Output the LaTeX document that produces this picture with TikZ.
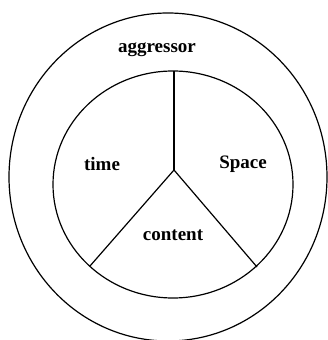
\documentclass[tikz,border=0pt]{standalone}
\usepackage{fontspec}
\setmainfont{Liberation Serif}
\tikzset{
	ring/.style={line width=1.2pt},
	spoke/.style={line width=1.2pt},
	word/.style={font=\fontsize{19}{22}\selectfont\bfseries, inner sep=0pt}
}

\begin{document}
\begin{tikzpicture}[x=1pt, y=1pt]
	\useasboundingbox (0, 0) rectangle (328, 340);
	% Rings:
	\draw[ring] (168, 163) ellipse [x radius=159, y radius=164];
	\draw[ring] (173, 155.5) ellipse [x radius=120, y radius=113.5];
	% Spokes:
	\coordinate (hub) at (174, 170);
	\coordinate (top) at (174, 269);
	\coordinate (left) at (90, 74);
	\coordinate (right) at (257, 73);
	\draw[spoke] (hub) -- (top);
	\draw[spoke] (hub) -- (left);
	\draw[spoke] (hub) -- (right);
	% Labels:
	\node[word] (aggressor) at (157, 290){aggressor};
	\node[word] (time) at (102, 176){time};
	\node[word] (space) at (243, 176){Space};
	\node[word] (content) at (173, 105){content};
\end{tikzpicture}
\end{document}
